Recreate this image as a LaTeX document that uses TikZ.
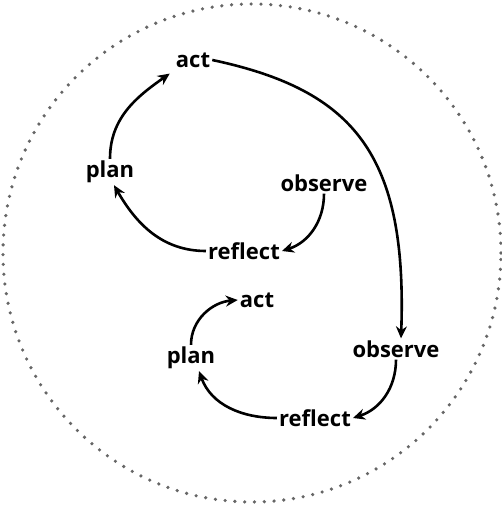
\documentclass[tikz,border=0pt]{standalone}
\usepackage{fontspec}
\setmainfont{Open Sans}
\usetikzlibrary{arrows.meta}

\tikzset{
	step node/.style={font=\bfseries\fontsize{22}{26}\selectfont, inner sep=2pt},
	loop arrow/.style={-{Stealth[length=12pt,width=11pt]}, line width=2.6pt, black}
}

\begin{document}
\begin{tikzpicture}[x=1pt,y=1pt]
\useasboundingbox (0,0) rectangle (502,507);
\draw[black!60, line width=3.6pt, line cap=round, dash pattern=on 0pt off 9.8pt]
	(252,254) circle (249);

% outer loop
\node[step node] (act1) at (193,447) {act};
\node[step node] (plan1) at (110,335) {plan};
\node[step node] (observe1) at (324,324) {observe};
\node[step node] (reflect1) at (244,256) {reflect};

% inner loop
\node[step node] (act2) at (257,207) {act};
\node[step node] (plan2) at (191,149) {plan};
\node[step node] (observe2) at (396,158) {observe};
\node[step node] (reflect2) at (315,89) {reflect};

\path[loop arrow]
(plan1.north) edge [out=90, in=215] ([xshift=-4pt,yshift=-4pt]act1.south west)
(act1.east) edge [out=-12, in=88, out looseness=1.1, in looseness=1.4] ([xshift=5pt]observe2.north)
(observe1.south) edge [out=-90, in=18] (reflect1.east)
(reflect1.west) edge [out=180, in=-60] ([xshift=4pt]plan1.south)
;
\path[loop arrow]
(plan2.north) edge [out=90, in=185] (act2.west)
(observe2.south) edge [out=-90, in=18] (reflect2.east)
(reflect2.west) edge [out=180, in=-70] ([xshift=8pt]plan2.south)
;
\end{tikzpicture}
\end{document}
